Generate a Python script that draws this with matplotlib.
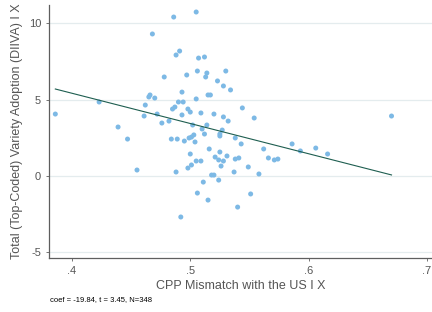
import matplotlib
matplotlib.use('Agg')
import matplotlib.pyplot as plt
import numpy as np

# residual scatter
mismatch = [0.386, 0.423, 0.439, 0.447, 0.455,
            0.486, 0.505, 0.468, 0.491, 0.488, 0.507, 0.512, 0.478, 0.497, 0.506, 0.514, 0.513, 0.530, 0.523,
            0.465, 0.466, 0.470, 0.462, 0.493, 0.490, 0.494, 0.505, 0.515, 0.517, 0.528, 0.534,
            0.461, 0.472, 0.476, 0.482, 0.485, 0.487, 0.498, 0.500, 0.493, 0.509, 0.520, 0.528, 0.532, 0.544, 0.554,
            0.502, 0.514, 0.510, 0.512, 0.527, 0.525, 0.525,
            0.484, 0.489, 0.495, 0.499, 0.501, 0.503, 0.504, 0.538, 0.543,
            0.500, 0.516, 0.525, 0.521, 0.524, 0.528, 0.531, 0.538, 0.541,
            0.562, 0.586, 0.593, 0.606, 0.616, 0.566, 0.571, 0.574,
            0.505, 0.509, 0.488, 0.498, 0.501,
            0.518, 0.520, 0.511, 0.506, 0.515, 0.492, 0.524, 0.526,
            0.549, 0.537, 0.558, 0.551, 0.540,
            0.670]
adoption = [4.05, 4.84, 3.20, 2.41, 0.38,
            10.41, 10.74, 9.30, 8.18, 7.92, 7.72, 7.79, 6.48, 6.61, 6.87, 6.74, 6.48, 6.87, 6.22,
            5.17, 5.30, 5.10, 4.64, 5.49, 4.84, 4.84, 5.04, 5.30, 5.30, 5.89, 5.63,
            3.92, 4.05, 3.46, 3.59, 4.38, 4.51, 4.38, 4.18, 3.99, 4.12, 4.05, 3.86, 3.59, 4.45, 3.79,
            3.33, 3.33, 3.07, 2.74, 3.00, 2.74, 2.61,
            2.41, 2.41, 2.28, 2.48, 2.54, 2.68, 2.22, 2.48, 2.09,
            1.43, 1.76, 1.56, 1.23, 1.04, 0.97, 1.30, 1.10, 1.17,
            1.76, 2.09, 1.63, 1.82, 1.43, 1.17, 1.04, 1.10,
            0.97, 0.97, 0.25, 0.51, 0.71,
            0.05, 0.05, -0.41, -1.13, -1.59, -2.70, -0.28, 0.64,
            0.58, 0.25, 0.12, -1.19, -2.05,
            3.92]

coef = -19.84
intercept = 13.35
note = 'coef = -19.84, t = 3.45, N=348'

yticks = [-5, 0, 5, 10]
ytick_labels = ['-5', '0', '5', '10']
xticks = [0.4, 0.5, 0.6, 0.7]
xtick_labels = ['.4', '.5', '.6', '.7']

plt.rcParams['font.family'] = ['Liberation Sans', 'DejaVu Sans']

fig = plt.figure(figsize=(4.32, 3.12), dpi=100)
ax = fig.add_axes([0.113, 0.173, 0.887, 0.811])

ax.scatter(mismatch, adoption, s=13, color='#7db9e5', edgecolors='none', zorder=3)

xl = np.array([min(mismatch), max(mismatch)])
ax.plot(xl, intercept + coef * xl, color='#1e5e50', linewidth=0.8, zorder=4)

ax.set_xlim(0.3805, 0.7042)
ax.set_ylim(-5.39, 11.2)
ax.set_yticks(yticks)
ax.set_yticklabels(ytick_labels)
ax.set_xticks(xticks)
ax.set_xticklabels(xtick_labels)

ax.yaxis.grid(True, color='#e4ecee', linewidth=0.9)
ax.set_axisbelow(True)
for s in ['top', 'right']:
    ax.spines[s].set_visible(False)
for s in ['left', 'bottom']:
    ax.spines[s].set_color('#5e5e5e')
    ax.spines[s].set_linewidth(0.9)
ax.tick_params(colors='#5e5e5e', labelcolor='#555555', labelsize=8, length=2.5, width=0.6, pad=3)

ax.set_xlabel('CPP Mismatch with the US I X', fontsize=9, color='#555555', labelpad=3)
ax.set_ylabel('Total (Top-Coded) Variety Adoption (DIIVA) I X', fontsize=9, color='#555555', labelpad=4)

fig.text(0.115, 0.035, note, fontsize=5.5, color='black')

fig.savefig('out.png', dpi=100)
